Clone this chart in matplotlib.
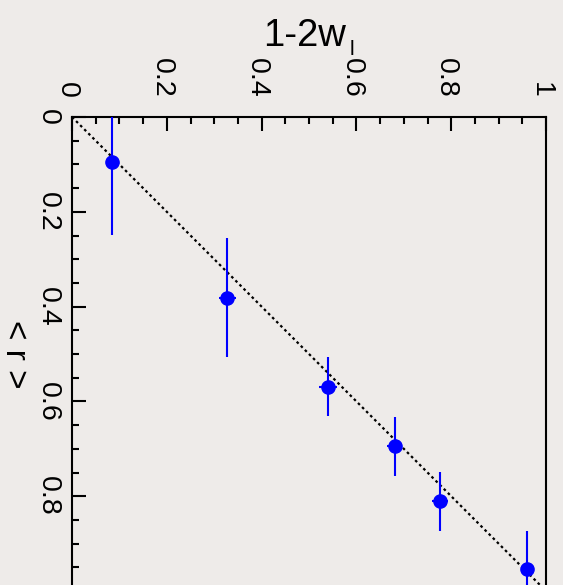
import matplotlib
matplotlib.use("Agg")
import matplotlib.pyplot as plt
import matplotlib.transforms as mtransforms
import numpy as np

# data (x = 1-2w_l on top axis, y = <r> on left axis, inverted)
w_vals = [0.084, 0.328, 0.541, 0.681, 0.777, 0.960]
r_vals = [0.095, 0.381, 0.569, 0.695, 0.811, 0.954]
r_err = [0.154, 0.125, 0.062, 0.062, 0.062, 0.080]
w_err = [0.005, 0.017, 0.019, 0.016, 0.017, 0.012]
ticks = [0, 0.2, 0.4, 0.6, 0.8, 1]
tick_labels = ["0", "0.2", "0.4", "0.6", "0.8", "1"]
ref_line = [0, 1]

plt.rcParams['font.family'] = ['Liberation Sans', 'DejaVu Sans']

bg = '#eeebe9'
W, H = 563, 585
fig = plt.figure(figsize=(W / 100, H / 100), dpi=100, facecolor=bg)
left, top, size = 72, 117, 474
ax = fig.add_axes([left / W, 1 - (top + size) / H, size / W, size / H], facecolor=bg)

ax.plot(ref_line, ref_line, color='black', lw=1.6, linestyle=(0, (1.2, 1.4)), zorder=2)
ax.errorbar(w_vals, r_vals, yerr=r_err, xerr=w_err, fmt='o', color='#0000ff',
            ecolor='#0000ff', elinewidth=1.5, capsize=0, markersize=9.5, zorder=3)

ax.set_xlim(0, 1)
ax.set_ylim(1, 0)
ax.xaxis.set_ticks_position('top')
ax.xaxis.set_label_position('top')
ax.set_xticks(ticks)
ax.set_xticklabels(tick_labels, rotation=-90)
ax.set_yticks(ticks[:-1])
ax.set_yticklabels(tick_labels[:-1], rotation=-90, va='center')
ax.set_xticks(np.arange(0, 1.0001, 0.05), minor=True)
ax.set_yticks(np.arange(0, 1.0001, 0.05), minor=True)
ax.tick_params(which='major', direction='in', length=10, width=1.5, labelsize=20.5,
               top=True, bottom=False, left=True, right=False, color='black')
ax.tick_params(which='minor', direction='in', length=5, width=1.5,
               top=True, bottom=False, left=True, right=False)
ax.tick_params(axis='x', which='major', pad=14)
ax.tick_params(axis='y', which='major', pad=8)
for s in ax.spines.values():
    s.set_linewidth(1.5)

shift = mtransforms.ScaledTranslation(-5 / 100, 0, fig.dpi_scale_trans)
for lab in ax.get_xticklabels():
    lab.set_transform(lab.get_transform() + shift)

fig.text(263 / W, 1 - 46 / H, '1-2w', fontsize=27.5, ha='left', va='baseline')
fig.text(350 / W, 1 - 55 / H, 'l', fontsize=15, ha='left', va='baseline')
fig.text(14 / W, 1 - 354 / H, '< r >', fontsize=24, rotation=-90,
         ha='center', va='center')

fig.savefig('out.png', dpi=100, facecolor=bg)
